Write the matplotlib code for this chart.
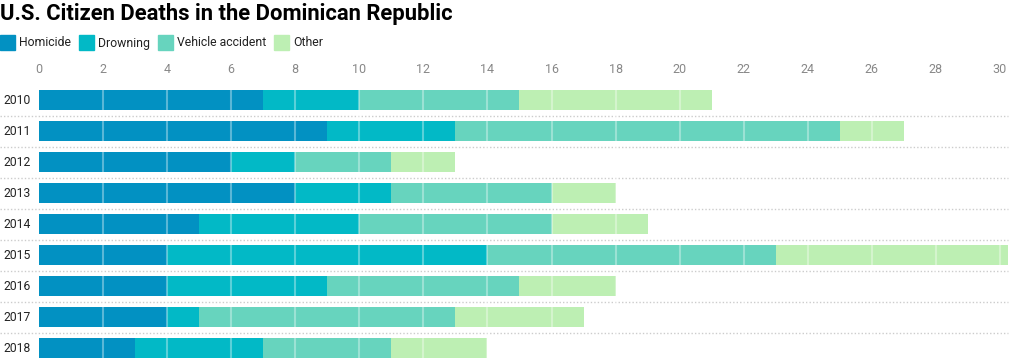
import matplotlib
matplotlib.use("Agg")
import matplotlib.pyplot as plt
import matplotlib.transforms as mtransforms
from matplotlib.patches import Rectangle

years = ["2010", "2011", "2012", "2013", "2014", "2015", "2016", "2017", "2018"]
homicide = [7, 9, 6, 8, 5, 4, 4, 4, 3]
drowning = [3, 4, 2, 3, 5, 10, 5, 1, 4]
vehicle = [5, 12, 3, 5, 6, 9, 6, 8, 4]
other = [6, 2, 2, 2, 3, 8, 3, 4, 3]
series_names = ["Homicide", "Drowning", "Vehicle accident", "Other"]
colors = ["#0291c2", "#02b9c6", "#67d4be", "#bdefb3"]
xticks = list(range(0, 31, 2))

plt.rcParams['font.family'] = ['Roboto', 'DejaVu Sans']

W, H = 1013, 363
fig = plt.figure(figsize=(W / 100, H / 100), dpi=100)

# axes placement in pixels
left_px, right_px = 39, 1008
top_px, bottom_px = 84.5, 363
ax = fig.add_axes([left_px / W, 1 - bottom_px / H, (right_px - left_px) / W, (bottom_px - top_px) / H])

ypos = list(range(len(years)))
lefts = [0] * len(years)
for name, vals, col in zip(series_names, [homicide, drowning, vehicle, other], colors):
    ax.barh(ypos, vals, left=lefts, height=0.65, color=col, label=name, zorder=2)
    lefts = [l + v for l, v in zip(lefts, vals)]

ax.set_xlim(0, 30.25)
ax.set_ylim(len(years) - 1 + 0.48, -0.5)

# white vertical gridlines over bars
for t in xticks[1:]:
    ax.axvline(t, color="white", alpha=0.35, lw=1.5, zorder=3)

ax.xaxis.tick_top()
ax.set_xticks(xticks)
ax.set_xticklabels([str(t) for t in xticks], color="#888888", fontsize=9)
ax.tick_params(axis="x", length=0, pad=6)
ax.set_yticks([])
for s in ax.spines.values():
    s.set_visible(False)

# year labels
trans_lab = mtransforms.blended_transform_factory(fig.transFigure, ax.transData)
for i, y in enumerate(years):
    fig.text(3 / W, 0, y, transform=trans_lab, fontsize=8.7, color="#222222",
             va="center", ha="left").set_y(i)

# dotted separators
for i in range(len(years) - 1):
    ax.plot([0, 1008 / W], [i + 0.5, i + 0.5], transform=trans_lab, color="#cccccc",
            lw=1, ls=(0, (1, 1.5)), clip_on=False, zorder=1)

# title
fig.text(0, 1 - 14 / H, "U.S. Citizen Deaths in the Dominican Republic", fontsize=15.8,
         fontweight="bold", color="#000000", va="center", ha="left")

# legend
x = 0
for name, col in zip(series_names, colors):
    fig.patches.append(Rectangle((x / W, 1 - 50 / H), 15 / W, 15 / H, transform=fig.transFigure,
                                 color=col, figure=fig))
    t = fig.text((x + 19) / W, 1 - 43 / H, name, fontsize=8.8, color="#222222", va="center", ha="left")
    fig.canvas.draw()
    bb = t.get_window_extent()
    x = bb.x1 + 8

fig.savefig("out.png", dpi=100)
